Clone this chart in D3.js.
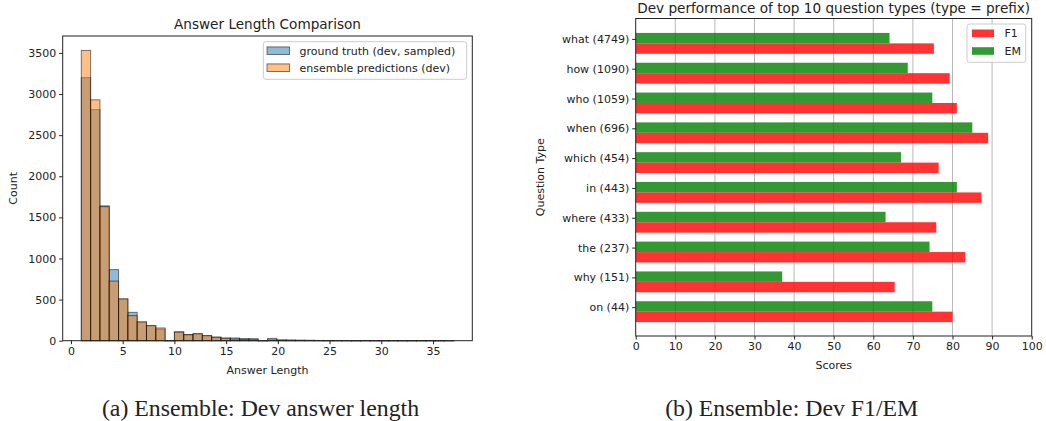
<!DOCTYPE html>
<html><head><meta charset="utf-8">
<script src="https://cdn.jsdelivr.net/npm/d3@7"></script>
<style>
html,body{margin:0;padding:0;background:#fff;}
svg{display:block;}
text{font-family:"DejaVu Sans",sans-serif;fill:#222;}
</style></head>
<body>
<svg id="c" width="1046" height="421"></svg>
<script>
// ---------- data: histogram (bins of width 0.9 from 1 to 37) ----------
const binStart = 1, binWidth = 0.9, binCount = 40;
const groundTruth = [3200, 2810, 1640, 865, 505, 345, 225, 180, 140, 0,
                     108, 75, 82, 60, 44, 32, 33, 26, 25, 0,
                     28, 10, 8, 6, 5, 3, 2, 2, 1, 0,
                     1, 1, 1, 0, 1, 0, 0, 1, 0, 1];
const ensemble =    [3530, 2930, 1630, 725, 510, 305, 230, 185, 155, 0,
                     105, 72, 86, 62, 42, 30, 20, 15, 12, 0,
                     8, 6, 5, 4, 3, 2, 1, 1, 1, 0,
                     1, 0, 0, 1, 0, 0, 1, 0, 0, 1];
const histXTicks = [0, 5, 10, 15, 20, 25, 30, 35];
const histYTicks = [0, 500, 1000, 1500, 2000, 2500, 3000, 3500];

// ---------- data: question types ----------
const qTypes = ["what (4749)", "how (1090)", "who (1059)", "when (696)", "which (454)",
                "in (443)", "where (433)", "the (237)", "why (151)", "on (44)"];
const f1Scores = [75.3, 79.3, 81.1, 89.0, 76.5, 87.3, 75.9, 83.2, 65.4, 80.0];
const emScores = [64.1, 68.7, 74.9, 85.0, 67.0, 81.1, 63.1, 74.2, 37.0, 74.9];
const scoreTicks = [0, 10, 20, 30, 40, 50, 60, 70, 80, 90, 100];

const svg = d3.select("#c");
const TICK = 11, TITLE = 13.6;
const fmt = d3.format("d");

// =================== LEFT: histogram ===================
{
  const L = 62.7, R = 472.3, T = 36, B = 340.7;
  const x = d3.scaleLinear().domain([-0.8, 38.8]).range([L, R]);
  const y = d3.scaleLinear().domain([0, 3706]).range([B, T]);
  const g = svg.append("g");
  const bins = d3.range(binCount).map(i => i);
  const series = [
    {vals: groundTruth, color: "#1f77b4"},
    {vals: ensemble, color: "#ff7f0e"}
  ];
  series.forEach(s => {
    g.append("g").selectAll("rect").data(bins).join("rect")
      .attr("x", i => x(binStart + i * binWidth))
      .attr("width", i => x(binStart + (i + 1) * binWidth) - x(binStart + i * binWidth))
      .attr("y", i => y(s.vals[i]))
      .attr("height", i => Math.max(0.2, y(0) - y(s.vals[i])))
      .attr("fill", s.color).attr("fill-opacity", 0.5)
      .attr("stroke", "#000").attr("stroke-opacity", 0.5).attr("stroke-width", 1);
  });
  // axes
  const xa = g.append("g").attr("transform", `translate(0,${B})`)
    .call(d3.axisBottom(x).tickValues(histXTicks).tickFormat(fmt).tickSize(3.5).tickPadding(3));
  const ya = g.append("g").attr("transform", `translate(${L},0)`)
    .call(d3.axisLeft(y).tickValues(histYTicks).tickFormat(fmt).tickSize(3.5).tickPadding(3));
  [xa, ya].forEach(a => {
    a.select(".domain").remove();
    a.selectAll("text").attr("font-size", TICK).attr("font-family", "DejaVu Sans").attr("fill", "#222");
    a.selectAll("line").attr("stroke", "#222");
  });
  g.append("rect").attr("x", L).attr("y", T).attr("width", R - L).attr("height", B - T)
    .attr("fill", "none").attr("stroke", "#222").attr("stroke-width", 1);
  g.append("text").attr("x", (L + R) / 2).attr("y", 28.5).attr("text-anchor", "middle")
    .attr("font-size", TITLE).text("Answer Length Comparison");
  g.append("text").attr("x", (L + R) / 2).attr("y", 374).attr("text-anchor", "middle")
    .attr("font-size", TICK).text("Answer Length");
  g.append("text").attr("transform", `translate(17,${(T + B) / 2}) rotate(-90)`)
    .attr("text-anchor", "middle").attr("font-size", TICK).text("Count");
  // legend
  const lg = g.append("g");
  lg.append("rect").attr("x", 263.3).attr("y", 41.7).attr("width", 203.4).attr("height", 37.6)
    .attr("rx", 2.5).attr("fill", "#fff").attr("fill-opacity", 0.8).attr("stroke", "#ccc");
  const legItems = [
    {label: "ground truth (dev, sampled)", color: "#1f77b4"},
    {label: "ensemble predictions (dev)", color: "#ff7f0e"}
  ];
  legItems.forEach((d, i) => {
    const cy = 50.7 + i * 17;
    lg.append("rect").attr("x", 267).attr("y", cy - 3.8).attr("width", 22.5).attr("height", 7.6)
      .attr("fill", d.color).attr("fill-opacity", 0.5).attr("stroke", "#000").attr("stroke-opacity", 0.5);
    lg.append("text").attr("x", 299.5).attr("y", cy + 4).attr("font-size", TICK).text(d.label);
  });
  svg.append("text").attr("x", 260.5).attr("y", 416).attr("text-anchor", "middle")
    .style("font-family", "'Liberation Serif', serif").attr("font-size", 23.8).attr("fill", "#111")
    .text("(a) Ensemble: Dev answer length");
}

// =================== RIGHT: horizontal bars ===================
{
  const L = 635.7, R = 1031.7, T = 18.5, B = 336;
  const x = d3.scaleLinear().domain([0, 100]).range([L, R]);
  const y = d3.scaleLinear().domain([-0.684, 9.966]).range([T, B]);
  const g = svg.append("g");
  // grid
  g.append("g").selectAll("line").data(scoreTicks.slice(1, -1)).join("line")
    .attr("x1", d => x(d)).attr("x2", d => x(d)).attr("y1", T).attr("y2", B)
    .attr("stroke", "#b0b0b0").attr("stroke-width", 0.9);
  const idx = d3.range(qTypes.length);
  g.append("g").selectAll("rect").data(idx).join("rect")
    .attr("x", x(0)).attr("width", i => x(emScores[i]) - x(0))
    .attr("y", i => y(i - 0.2)).attr("height", i => y(i + 0.15) - y(i - 0.2))
    .attr("fill", "#008000").attr("fill-opacity", 0.8);
  g.append("g").selectAll("rect").data(idx).join("rect")
    .attr("x", x(0)).attr("width", i => x(f1Scores[i]) - x(0))
    .attr("y", i => y(i + 0.15)).attr("height", i => y(i + 0.5) - y(i + 0.15))
    .attr("fill", "#ff0000").attr("fill-opacity", 0.8);
  const xa = g.append("g").attr("transform", `translate(0,${B})`)
    .call(d3.axisBottom(x).tickValues(scoreTicks).tickFormat(fmt).tickSize(3.5).tickPadding(3));
  const ya = g.append("g").attr("transform", `translate(${L},0)`)
    .call(d3.axisLeft(d3.scaleOrdinal().domain(qTypes).range(idx.map(i => y(i))))
      .tickSize(3.5).tickPadding(3));
  [xa, ya].forEach(a => {
    a.select(".domain").remove();
    a.selectAll("text").attr("font-size", TICK).attr("font-family", "DejaVu Sans").attr("fill", "#222");
    a.selectAll("line").attr("stroke", "#222");
  });
  g.append("rect").attr("x", L).attr("y", T).attr("width", R - L).attr("height", B - T)
    .attr("fill", "none").attr("stroke", "#222").attr("stroke-width", 1);
  g.append("text").attr("x", (L + R) / 2).attr("y", 13).attr("text-anchor", "middle")
    .attr("font-size", TITLE).text("Dev performance of top 10 question types (type = prefix)");
  g.append("text").attr("x", (L + R) / 2).attr("y", 369).attr("text-anchor", "middle")
    .attr("font-size", TICK).text("Scores");
  g.append("text").attr("transform", `translate(544,${(T + B) / 2}) rotate(-90)`)
    .attr("text-anchor", "middle").attr("font-size", TICK).text("Question Type");
  // legend
  const lg = g.append("g");
  lg.append("rect").attr("x", 967).attr("y", 24).attr("width", 58.7).attr("height", 38.3)
    .attr("rx", 2.5).attr("fill", "#fff").attr("fill-opacity", 0.8).attr("stroke", "#ccc");
  [{label: "F1", color: "#ff0000"}, {label: "EM", color: "#008000"}].forEach((d, i) => {
    const cy = 33.3 + i * 17.7;
    lg.append("rect").attr("x", 972).attr("y", cy - 3.8).attr("width", 22).attr("height", 7.6)
      .attr("fill", d.color).attr("fill-opacity", 0.8);
    lg.append("text").attr("x", 1004.5).attr("y", cy + 4).attr("font-size", TICK).text(d.label);
  });
  svg.append("text").attr("x", 791.7).attr("y", 416).attr("text-anchor", "middle")
    .style("font-family", "'Liberation Serif', serif").attr("font-size", 23.8).attr("fill", "#111")
    .text("(b) Ensemble: Dev F1/EM");
}
</script>
</body></html>
